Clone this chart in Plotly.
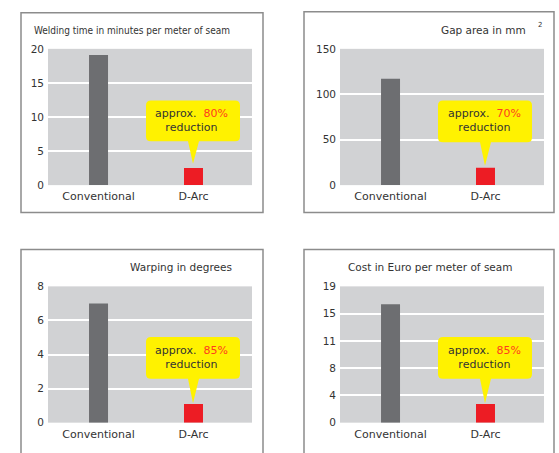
import plotly.graph_objects as go

W, H = 559, 453

categories = ["Conventional", "D-Arc"]
welding_time = [19.1, 2.5]
gap_area = [117, 19]
warping = [7.0, 1.1]
cost = [16.5, 2.6]

titles = ["Welding time in minutes per meter of seam", "Gap area in mm",
          "Warping in degrees", "Cost in Euro per meter of seam"]
reductions = ["80%", "70%", "85%", "85%"]

y_ranges = [[0, 20], [0, 150], [0, 8], [0, 19]]
y_tickvals = [[0, 5, 10, 15, 20], [0, 50, 100, 150], [0, 2, 4, 6, 8],
              [0, 3.8, 7.6, 11.4, 15.2, 19]]
y_ticktext = [["0", "5", "10", "15", "20"], ["0", "50", "100", "150"],
              ["0", "2", "4", "6", "8"], ["0", "4", "8", "11", "15", "19"]]
series = [welding_time, gap_area, warping, cost]

GRAY_BAR = "#6d6e71"
RED_BAR = "#ed1c24"
PLOT_BG = "#d1d2d4"
YELLOW = "#fff200"
HIGHLIGHT = "#ff3c1e"
TXT = "#333333"
BORDER = "#8c8c8c"
FONT = "DejaVu Sans, Verdana, sans-serif"


def X(px):
    return px / W


def Y(py):
    return 1 - py / H


# panel geometry in pixels: plot area (x0, x1, ytop, ybottom)
plots = [(48, 252, 44, 184), (340, 544, 44, 184),
         (48, 252, 288, 428), (340, 544, 288, 428)]
borders = [(21, 7, 263, 212), (304, 6, 554, 212),
           (21, 250, 263, 470), (304, 250, 554, 470)]
bubbles = [(146, 97, 240, 139, 193, 162), (438, 97, 532, 140, 485, 164),
           (146, 340, 240, 383, 193, 408), (438, 340, 532, 383, 485, 408)]
title_pos = [(32, 25, 10, "DejaVu Sans Condensed, Liberation Sans Narrow, DejaVu Sans"),
             (439, 25, 10.5, FONT), (128, 268, 10.5, FONT), (346, 268, 10.5, FONT)]

fig = go.Figure()
layout = dict(width=W, height=H, margin=dict(l=0, r=0, t=0, b=0),
              paper_bgcolor="white", showlegend=False, shapes=[], annotations=[])

for i in range(4):
    sfx = "" if i == 0 else str(i + 1)
    fig.add_trace(go.Bar(x=categories, y=series[i], width=0.2,
                         marker=dict(color=[GRAY_BAR, RED_BAR], line=dict(width=0)),
                         xaxis="x" + sfx, yaxis="y" + sfx, hoverinfo="skip"))
    x0, x1, yt, yb = plots[i]
    layout["xaxis" + sfx] = dict(domain=[X(x0), X(x1)], anchor="y" + sfx,
                                 range=[-0.532, 1.616], showgrid=False, zeroline=False,
                                 showline=False, ticks="", fixedrange=True,
                                 ticklabelstandoff=3,
                                 tickfont=dict(family=FONT, size=11, color=TXT))
    layout["yaxis" + sfx] = dict(domain=[Y(yb), Y(yt)], anchor="x" + sfx,
                                 range=y_ranges[i], tickvals=y_tickvals[i],
                                 ticktext=y_ticktext[i], showgrid=True,
                                 gridcolor="white", gridwidth=2, zeroline=False,
                                 showline=False, ticks="", fixedrange=True,
                                 ticklabelstandoff=3,
                                 tickfont=dict(family=FONT, size=10.5, color=TXT))
    layout["plot_bgcolor"] = PLOT_BG

    bx0, by0, bx1, by1 = borders[i]
    layout["shapes"].append(dict(type="rect", xref="paper", yref="paper",
                                 x0=X(bx0), x1=X(bx1), y0=Y(by1), y1=Y(by0),
                                 line=dict(color=BORDER, width=1.5), layer="below"))

    # callout bubble
    rx0, ry0, rx1, ry1, tx, ty = bubbles[i]
    r = 5
    pts = [("M", rx0 + r, ry0), ("L", rx1 - r, ry0), ("Q", rx1, ry0, rx1, ry0 + r),
           ("L", rx1, ry1 - r), ("Q", rx1, ry1, rx1 - r, ry1),
           ("L", tx + 6, ry1), ("L", tx, ty), ("L", tx - 5, ry1),
           ("L", rx0 + r, ry1), ("Q", rx0, ry1, rx0, ry1 - r),
           ("L", rx0, ry0 + r), ("Q", rx0, ry0, rx0 + r, ry0)]
    path = ""
    for p in pts:
        cmd = p[0]
        coords = p[1:]
        segs = []
        for k in range(0, len(coords), 2):
            segs.append(f"{X(coords[k]):.5f},{Y(coords[k + 1]):.5f}")
        path += cmd + " " + " ".join(segs) + " "
    path += "Z"
    layout["shapes"].append(dict(type="path", xref="paper", yref="paper", path=path,
                                 fillcolor=YELLOW, line=dict(width=0), layer="above"))
    layout["annotations"].append(dict(
        xref="paper", yref="paper", x=X((rx0 + rx1) / 2 - 1), y=Y((ry0 + ry1) / 2 - 0.5),
        xanchor="center", yanchor="middle", showarrow=False, align="center",
        text=f"approx.  <span style='color:{HIGHLIGHT}'>{reductions[i]}</span><br>reduction",
        font=dict(family=FONT, size=11, color=TXT)))

    tx_, ty_, tsz, tfam = title_pos[i]
    layout["annotations"].append(dict(
        xref="paper", yref="paper", x=X(tx_), y=Y(ty_), xanchor="left", yanchor="middle",
        showarrow=False, text=titles[i], font=dict(family=tfam, size=tsz, color=TXT)))

layout["annotations"].append(dict(
    xref="paper", yref="paper", x=X(540), y=Y(20), xanchor="center", yanchor="middle",
    showarrow=False, text="2", font=dict(family=FONT, size=7, color=TXT)))

fig.update_layout(**layout)
fig.write_html("out.html")
